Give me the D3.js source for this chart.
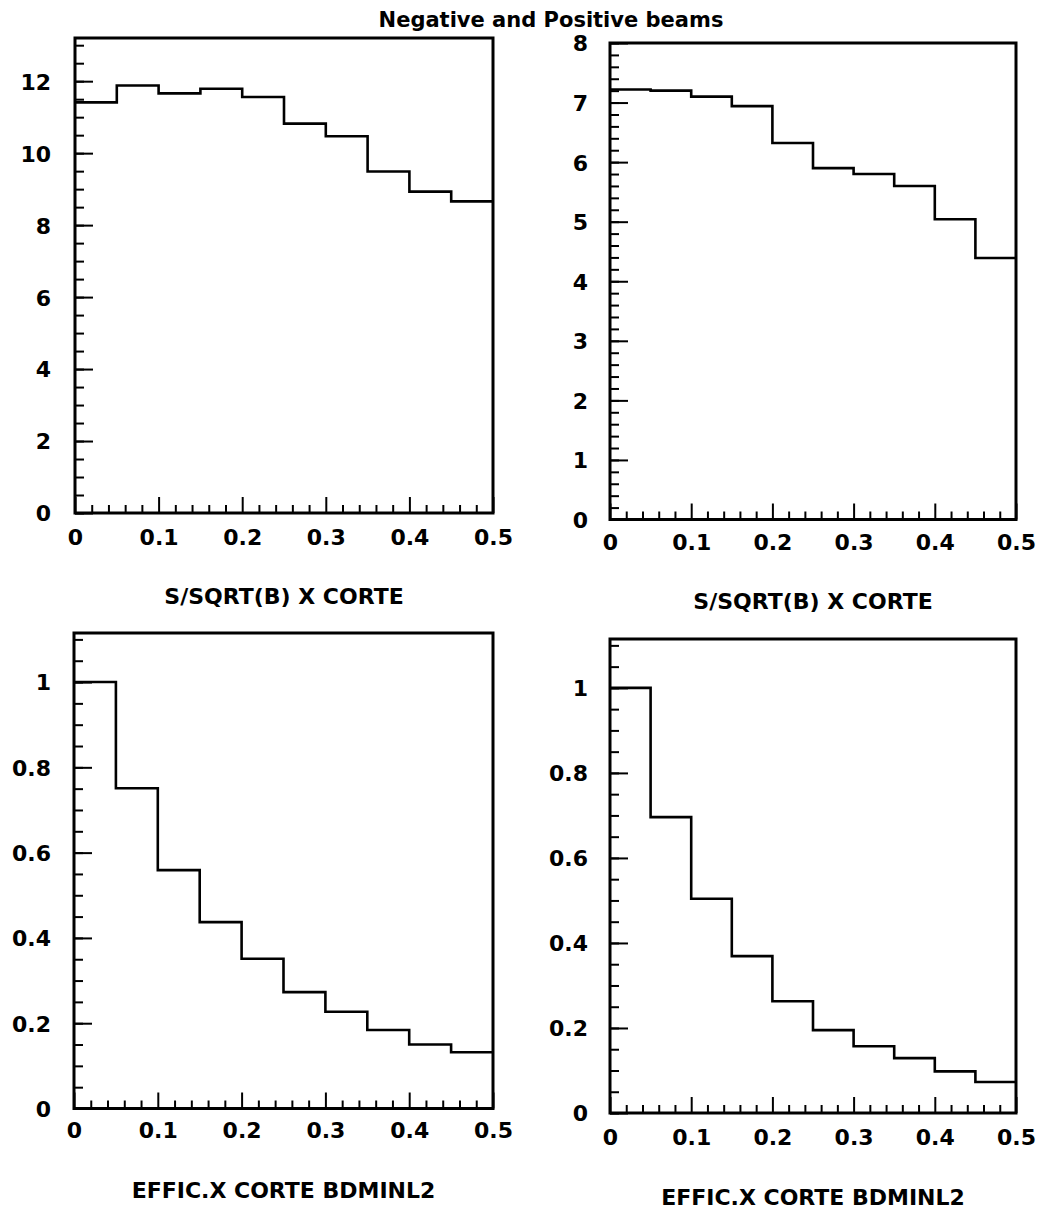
<!DOCTYPE html>
<html>
<head>
<meta charset="utf-8">
<script src="https://cdn.jsdelivr.net/npm/d3@7"></script>
<style>
  body { margin: 0; background: #fff; }
  svg text { font-family: 'DejaVu Sans', sans-serif; font-weight: bold; fill: #000; }
</style>
</head>
<body>
<div id="svg-container"></div>
<script>
// bin edges of the cut (same for all four histograms)
const binEdges = [0, 0.05, 0.1, 0.15, 0.2, 0.25, 0.3, 0.35, 0.4, 0.45, 0.5]
const xTickValues = [0, 0.1, 0.2, 0.3, 0.4, 0.5]

// S/sqrt(B) vs cut, negative beam (left) and positive beam (right)
const signifNegative = [11.41, 11.88, 11.66, 11.79, 11.56, 10.82, 10.47, 9.49, 8.93, 8.66]
const signifPositive = [7.22, 7.2, 7.1, 6.94, 6.32, 5.9, 5.8, 5.6, 5.04, 4.39]

// efficiency vs cut on BDMINL2
const effNegative = [1.0, 0.751, 0.559, 0.437, 0.351, 0.273, 0.227, 0.184, 0.15, 0.132]
const effPositive = [1.0, 0.696, 0.504, 0.369, 0.263, 0.195, 0.157, 0.129, 0.098, 0.073]

const yTicksSignifNeg = [0, 2, 4, 6, 8, 10, 12]
const yTicksSignifPos = [0, 1, 2, 3, 4, 5, 6, 7, 8]
const yTicksEff = [0, 0.2, 0.4, 0.6, 0.8, 1]

const heading = 'Negative and Positive beams'
const signifTitle = 'S/SQRT(B) X CORTE'
const effTitle = 'EFFIC.X CORTE BDMINL2'

const svgWidth = 1040
const svgHeight = 1209
const tickFont = '22px'
const titleFont = '22px'

const panels = [
  {
    values: signifNegative, yMax: 13.2, yTicks: yTicksSignifNeg, minorStep: 0.5,
    left: 75, right: 493, top: 38, bottom: 513,
    labelRight: 51, xLabelY: 545, title: signifTitle, titleY: 604,
  },
  {
    values: signifPositive, yMax: 8, yTicks: yTicksSignifPos, minorStep: 0.2,
    left: 610, right: 1016, top: 43, bottom: 519.5,
    labelRight: 588, xLabelY: 550, title: signifTitle, titleY: 609,
  },
  {
    values: effNegative, yMax: 1.115, yTicks: yTicksEff, minorStep: 0.05,
    left: 74, right: 493, top: 633, bottom: 1108.5,
    labelRight: 51, xLabelY: 1138, title: effTitle, titleY: 1198,
  },
  {
    values: effPositive, yMax: 1.115, yTicks: yTicksEff, minorStep: 0.05,
    left: 610, right: 1016, top: 639, bottom: 1113,
    labelRight: 588, xLabelY: 1145, title: effTitle, titleY: 1205,
  },
]

const svg = d3
  .select('#svg-container')
  .append('svg')
  .attr('width', svgWidth)
  .attr('height', svgHeight)

svg.append('rect').attr('width', svgWidth).attr('height', svgHeight).attr('fill', '#fff')

svg
  .append('text')
  .attr('x', 551)
  .attr('y', 27)
  .attr('text-anchor', 'middle')
  .style('font-size', '21px')
  .text(heading)

const fmt = d => (d === 0 ? '0' : d3.format('~g')(d))

panels.forEach(p => {
  const width = p.right - p.left
  const height = p.bottom - p.top

  const xScale = d3.scaleLinear().domain([0, 0.5]).range([0, width])
  const yScale = d3.scaleLinear().domain([0, p.yMax]).range([height, 0])

  const g = svg.append('g').attr('transform', `translate(${p.left}, ${p.top})`)

  // minor ticks on x every 0.02, on y every minorStep
  const xMinor = d3.range(0, 0.5001, 0.02).filter(v => Math.abs(v * 10 - Math.round(v * 10)) > 1e-6)
  const yMinor = d3.range(0, p.yMax + 1e-9, p.minorStep)

  g.append('g')
    .attr('transform', `translate(0, ${height})`)
    .call(d3.axisBottom(xScale).tickValues(xMinor).tickSize(-8).tickFormat(''))
    .call(a => a.select('.domain').remove())
    .call(a => a.selectAll('.tick line').attr('stroke-width', 2))

  g.append('g')
    .call(d3.axisLeft(yScale).tickValues(yMinor).tickSize(-9).tickFormat(''))
    .call(a => a.select('.domain').remove())
    .call(a => a.selectAll('.tick line').attr('stroke-width', 2))

  // major ticks with labels
  g.append('g')
    .attr('transform', `translate(0, ${height})`)
    .call(d3.axisBottom(xScale).tickValues(xTickValues).tickSize(-16).tickFormat(fmt))
    .call(a => a.select('.domain').remove())
    .call(a => a.selectAll('.tick line').attr('stroke-width', 2))
    .call(a =>
      a
        .selectAll('.tick text')
        .attr('y', p.xLabelY - p.bottom)
        .attr('dy', 0)
        .style('font-size', tickFont),
    )

  g.append('g')
    .call(d3.axisLeft(yScale).tickValues(p.yTicks).tickSize(-18).tickFormat(fmt))
    .call(a => a.select('.domain').remove())
    .call(a => a.selectAll('.tick line').attr('stroke-width', 2))
    .call(a =>
      a
        .selectAll('.tick text')
        .attr('x', p.labelRight - p.left)
        .attr('dy', '0.36em')
        .style('font-size', tickFont),
    )

  // histogram outline
  const pts = p.values.map((v, i) => [binEdges[i], v])
  pts.push([binEdges[binEdges.length - 1], p.values[p.values.length - 1]])
  g.append('path')
    .attr(
      'd',
      d3
        .line()
        .x(d => xScale(d[0]))
        .y(d => yScale(d[1]))
        .curve(d3.curveStepAfter)(pts),
    )
    .attr('fill', 'none')
    .attr('stroke', '#000')
    .attr('stroke-width', 2.6)

  // frame
  g.append('rect')
    .attr('width', width)
    .attr('height', height)
    .attr('fill', 'none')
    .attr('stroke', '#000')
    .attr('stroke-width', 3)

  svg
    .append('text')
    .attr('x', (p.left + p.right) / 2)
    .attr('y', p.titleY)
    .attr('text-anchor', 'middle')
    .style('font-size', titleFont)
    .text(p.title)
})
</script>
</body>
</html>
